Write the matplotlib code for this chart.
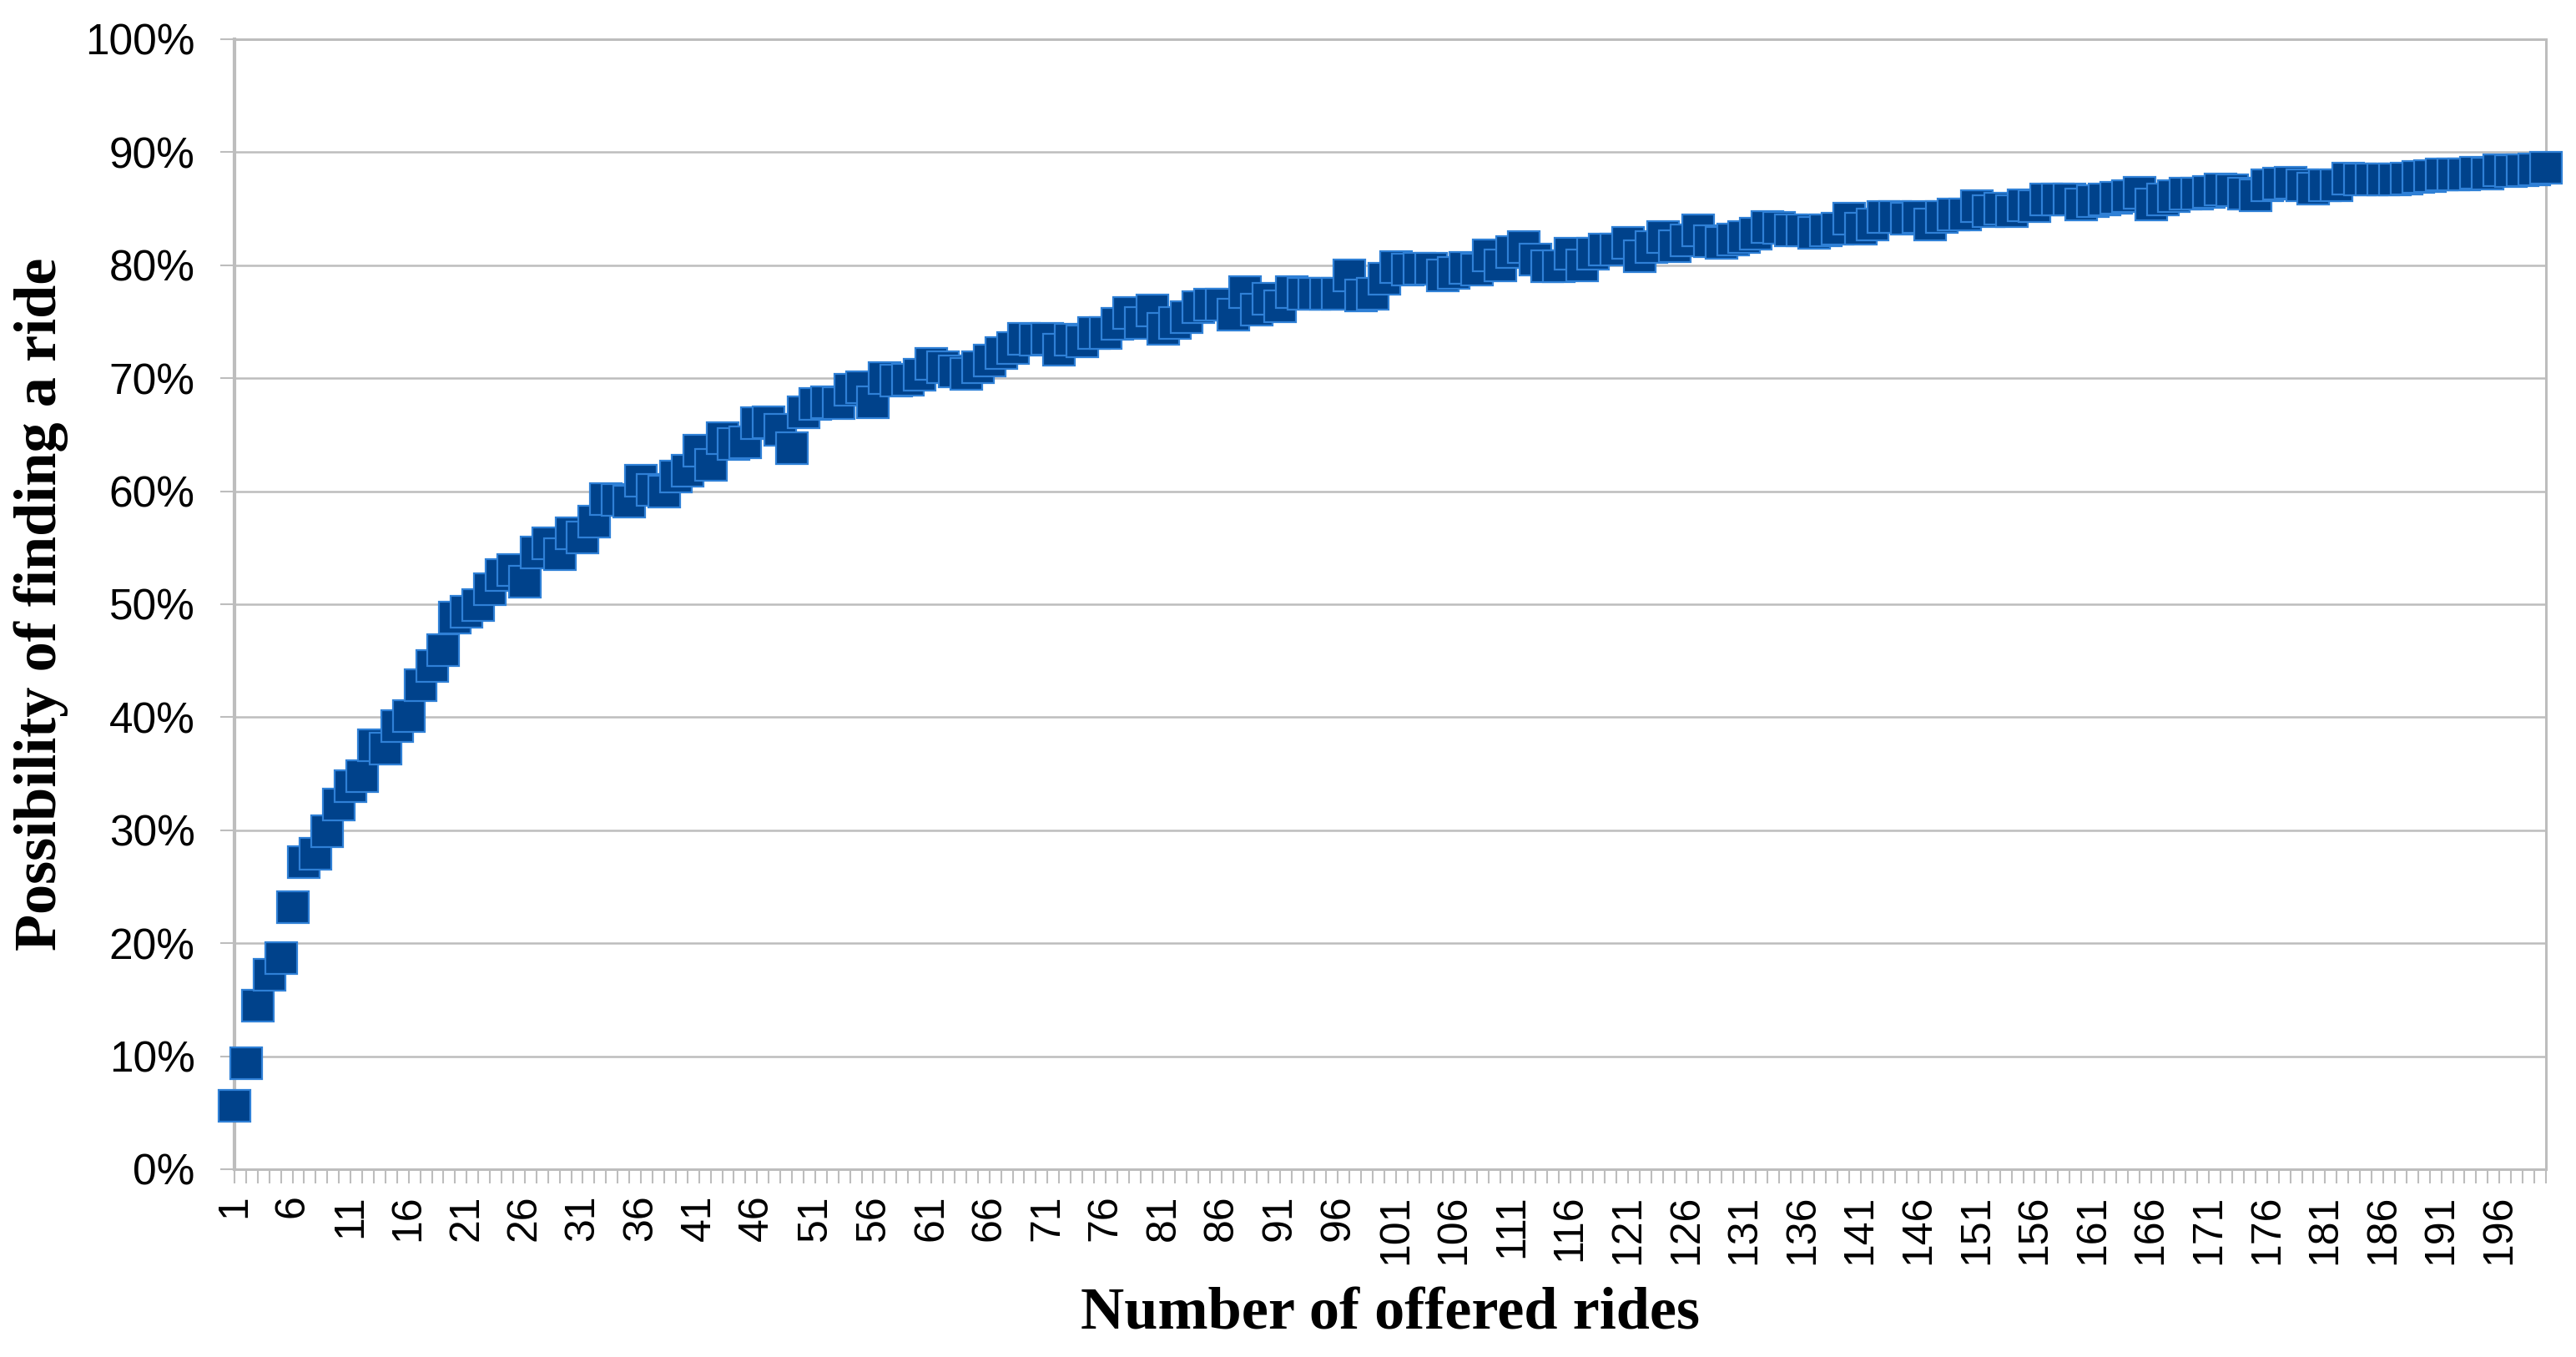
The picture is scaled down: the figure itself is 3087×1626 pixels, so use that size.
import numpy as np
import matplotlib
matplotlib.use('Agg')
import matplotlib.pyplot as plt
from matplotlib.ticker import FixedLocator, PercentFormatter

# number of offered rides (categories 1..200)
rides = np.arange(1, 201)

# possibility of finding a ride [%]
p_1_50 = [5.6, 9.4, 14.5, 17.2, 18.7, 23.2, 27.2, 27.9, 29.9, 32.3,
          33.9, 34.8, 37.5, 37.2, 39.2, 40.1, 42.8, 44.5, 45.9, 48.8,
          49.3, 49.9, 51.3, 52.6, 53.0, 52.0, 54.6, 55.4, 54.4, 56.3,
          55.9, 57.3, 59.3, 59.2, 59.1, 60.9, 60.1, 60.0, 61.3, 61.8,
          63.6, 62.3, 64.7, 64.2, 64.3, 66.0, 66.1, 65.4, 63.8, 67.0]
p_51_100 = [67.7, 67.9, 67.8, 69.0, 69.2, 67.9, 70.0, 69.8, 69.9, 70.3,
            71.3, 71.0, 70.6, 70.4, 71.0, 71.6, 72.2, 72.7, 73.5, 73.4,
            73.5, 72.5, 73.4, 73.3, 74.0, 74.0, 74.8, 75.8, 74.9, 76.0,
            74.4, 74.9, 75.4, 76.3, 76.5, 76.5, 75.6, 77.6, 76.1, 77.0,
            76.4, 77.6, 77.5, 77.5, 77.5, 77.5, 79.1, 77.3, 77.5, 78.8]
p_101_150 = [79.8, 79.6, 79.7, 79.7, 79.1, 79.3, 79.75, 79.6, 80.9, 80.0,
             81.2, 81.6, 80.5, 79.9, 79.9, 81.0, 80.0, 81.0, 81.4, 81.4,
             82.0, 80.8, 81.6, 82.5, 81.7, 82.2, 83.1, 82.1, 82.0, 82.3,
             82.5, 82.8, 83.4, 83.3, 83.1, 83.1, 82.9, 83.1, 83.2, 84.1,
             83.2, 83.6, 84.3, 84.3, 84.1, 84.3, 83.6, 84.3, 84.5, 84.5]
p_151_200 = [85.2, 84.8, 85.0, 84.8, 85.3, 85.2, 85.8, 85.8, 85.8, 85.4,
             85.7, 85.8, 86.0, 86.1, 86.4, 85.4, 85.8, 86.1, 86.3, 86.3,
             86.45, 86.7, 86.6, 86.3, 86.2, 87.1, 87.2, 87.3, 87.1, 86.8,
             87.1, 87.1, 87.7, 87.6, 87.6, 87.6, 87.6, 87.7, 87.8, 87.9,
             88.0, 88.0, 88.0, 88.2, 88.1, 88.4, 88.3, 88.4, 88.5, 88.6]
possibility = np.array(p_1_50 + p_51_100 + p_101_150 + p_151_200)

x_labels = [str(r) for r in range(1, 200, 5)]

grid_color = '#bdbdbd'

fig = plt.figure(figsize=(30.87, 16.26), dpi=100)
ax = fig.add_axes([0.0910, 0.1384, 0.8973, 0.8327])

ax.plot(rides, possibility, linestyle='none', marker='s', markersize=27,
        markerfacecolor='#00428b', markeredgecolor='#2f80d6',
        markeredgewidth=1.6, clip_on=False, zorder=3)

ax.set_xlim(1, 200)
ax.set_ylim(0, 100)

ax.yaxis.set_major_locator(FixedLocator(np.arange(0, 101, 10)))
ax.yaxis.set_major_formatter(PercentFormatter(decimals=0))
ax.grid(axis='y', color=grid_color, linewidth=1.8, zorder=0)
ax.set_axisbelow(True)

ax.set_xticks(range(1, 200, 5))
ax.set_xticklabels(x_labels, rotation=90, fontsize=36, family='Liberation Sans')
ax.xaxis.set_minor_locator(FixedLocator(rides))
ax.tick_params(axis='x', which='both', length=12, width=1.5, color=grid_color,
               pad=10)
ax.tick_params(axis='y', length=12, width=1.5, color=grid_color, pad=22,
               labelsize=37)
for lab in ax.get_yticklabels():
    lab.set_family('Liberation Sans')

for side in ['left', 'right', 'top', 'bottom']:
    ax.spines[side].set_color(grid_color)
    ax.spines[side].set_linewidth(2.2)
ax.spines['left'].set_linewidth(3)

ax.set_xlabel('Number of offered rides', fontsize=52, fontweight='bold',
              family='Liberation Serif')
ax.set_ylabel('Possibility of finding a ride', fontsize=52, fontweight='bold',
              family='Liberation Serif')
ax.xaxis.label.set_va('center')
ax.yaxis.label.set_va('center')
ax.xaxis.set_label_coords(0.5, -0.1285)
ax.yaxis.set_label_coords(-0.0838, 0.5)

fig.savefig('out.png', dpi=100, facecolor='white')
